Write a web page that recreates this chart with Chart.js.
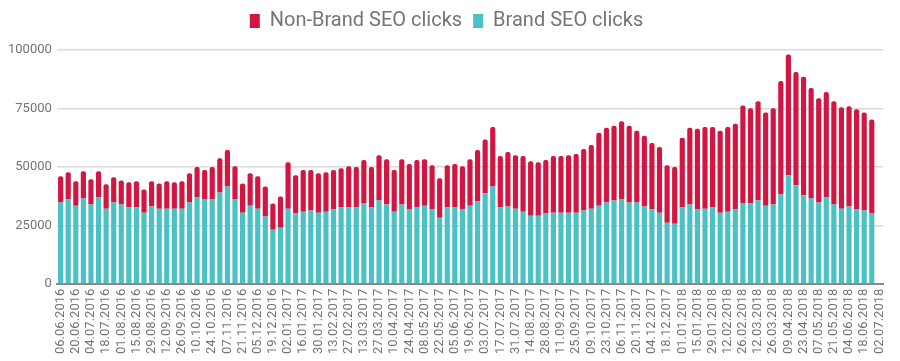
<!DOCTYPE html>
<html>
<head>
<meta charset="utf-8">
<script src="https://cdn.jsdelivr.net/npm/chart.js@4/dist/chart.umd.min.js"></script>
<style>
  html, body { margin: 0; padding: 0; background: #ffffff; }
  #wrap { width: 900px; height: 361px; position: relative; }
</style>
</head>
<body>
<div id="wrap"><canvas id="c"></canvas></div>
<script>
const weeks = [
  "06.06.2016","13.06.2016","20.06.2016","27.06.2016","04.07.2016","11.07.2016","18.07.2016","25.07.2016",
  "01.08.2016","08.08.2016","15.08.2016","22.08.2016","29.08.2016","05.09.2016","12.09.2016","19.09.2016",
  "26.09.2016","03.10.2016","10.10.2016","17.10.2016","24.10.2016","31.10.2016","07.11.2016","14.11.2016",
  "21.11.2016","28.11.2016","05.12.2016","12.12.2016","19.12.2016","26.12.2016",
  "02.01.2017","09.01.2017","16.01.2017","23.01.2017","30.01.2017","06.02.2017","13.02.2017","20.02.2017",
  "27.02.2017","06.03.2017","13.03.2017","20.03.2017","27.03.2017","03.04.2017","10.04.2017","17.04.2017",
  "24.04.2017","01.05.2017","08.05.2017","15.05.2017","22.05.2017","29.05.2017","05.06.2017","12.06.2017",
  "19.06.2017","26.06.2017","03.07.2017","10.07.2017","17.07.2017","24.07.2017","31.07.2017","07.08.2017",
  "14.08.2017","21.08.2017","28.08.2017","04.09.2017","11.09.2017","18.09.2017","25.09.2017","02.10.2017",
  "09.10.2017","16.10.2017","23.10.2017","30.10.2017","06.11.2017","13.11.2017","20.11.2017","27.11.2017",
  "04.12.2017","11.12.2017","18.12.2017","25.12.2017",
  "01.01.2018","08.01.2018","15.01.2018","22.01.2018","29.01.2018","05.02.2018","12.02.2018","19.02.2018",
  "26.02.2018","05.03.2018","12.03.2018","19.03.2018","26.03.2018","02.04.2018","09.04.2018","16.04.2018",
  "23.04.2018","30.04.2018","07.05.2018","14.05.2018","21.05.2018","28.05.2018","04.06.2018","11.06.2018",
  "18.06.2018","25.06.2018","02.07.2018"
];

const brandClicks = [
  34700,36000,33400,36500,33900,36900,32100,34700,33900,32600,32600,30400,33000,32100,32100,32100,
  32100,34700,36900,36000,36000,39000,41600,36000,30400,33400,32100,28700,23100,23900,
  32100,30000,30800,31300,30400,30800,31700,32600,32600,32600,34300,32600,35600,33900,30800,33900,
  31700,32600,33400,31700,28200,32600,32600,31700,33400,35200,38600,41600,32600,33000,32100,30800,
  29100,29100,30000,30400,30400,30400,30400,31300,32100,33400,34700,35600,36000,34700,34700,33000,
  31700,30400,26100,25600,
  32600,33900,31700,32100,32600,30400,30800,31700,34300,34300,35600,33400,33900,38200,46400,42100,
  37800,36500,34700,36900,33900,32100,33000,31700,31300,30000,null
];

const nonBrandClicks = [
  11300,11700,10400,11600,10800,11200,10400,10800,10300,10800,11200,9900,10800,10800,11700,11300,
  11700,12600,13000,12600,13900,14700,15600,14300,12500,13900,13900,12900,11200,13400,
  19900,16400,17800,17300,16900,16900,16900,16800,17700,17300,18600,17300,19400,19400,17800,19400,
  19500,20300,19900,19000,16900,18100,18600,18600,19900,22000,23100,25500,22000,23300,22900,23800,
  23300,22900,22900,24200,24200,24600,25100,26300,27300,31200,32000,32000,33500,32900,30700,30300,
  28500,28100,24600,24300,
  29800,32800,34600,35000,34500,35000,36300,36700,41900,40800,42500,39900,41200,48500,51700,48500,
  50700,47200,44700,45100,44200,43400,42900,42900,42000,40300,null
];

const yTicks = [0, 25000, 50000, 75000, 100000];

const GREY = '#757575';
const FONT = 'Roboto, "Noto Sans", sans-serif';

const legendGap = {
  id: 'legendGap',
  beforeInit(chart) {
    const legend = chart.legend;
    if (!legend) return;
    const origFit = legend.fit;
    legend.fit = function () {
      origFit.call(this);
      this.height += 9;
    };
  }
};

new Chart(document.getElementById('c'), {
  type: 'bar',
  data: {
    labels: weeks,
    datasets: [
      {
        label: 'Brand SEO clicks',
        data: brandClicks,
        backgroundColor: '#4AC1C4',
        borderWidth: 0,
        categoryPercentage: 1.0,
        barPercentage: 0.68,
        stack: 's'
      },
      {
        label: 'Non-Brand SEO clicks',
        data: nonBrandClicks,
        backgroundColor: '#D31542',
        borderWidth: 0,
        borderRadius: { topLeft: 2, topRight: 2, bottomLeft: 0, bottomRight: 0 },
        borderSkipped: false,
        categoryPercentage: 1.0,
        barPercentage: 0.68,
        stack: 's'
      }
    ]
  },
  plugins: [legendGap],
  options: {
    responsive: true,
    maintainAspectRatio: false,
    animation: false,
    layout: { padding: { top: 0, right: 10, left: 3, bottom: 2 } },
    plugins: {
      legend: {
        display: true,
        position: 'top',
        reverse: true,
        labels: {
          boxWidth: 10,
          boxHeight: 14,
          padding: 11,
          color: GREY,
          font: { family: FONT, size: 20 }
        }
      },
      tooltip: { enabled: false }
    },
    scales: {
      x: {
        stacked: true,
        grid: { display: false, drawTicks: false },
        border: { display: true, color: '#8a8a8a', width: 2 },
        ticks: {
          autoSkip: false,
          maxRotation: 90,
          minRotation: 90,
          padding: 5,
          color: GREY,
          font: { family: FONT, size: 13 },
          callback: function (v, i) { return i % 2 === 0 ? weeks[i] : ''; }
        }
      },
      y: {
        stacked: true,
        min: 0,
        max: 100000,
        afterBuildTicks: function (axis) { axis.ticks = yTicks.map(v => ({ value: v })); },
        grid: { color: '#dadada', lineWidth: 1.5, drawTicks: false },
        border: { display: false },
        ticks: {
          padding: 5,
          color: GREY,
          font: { family: FONT, size: 13 },
          callback: function (v) { return String(v); }
        }
      }
    }
  }
});
</script>
</body>
</html>
